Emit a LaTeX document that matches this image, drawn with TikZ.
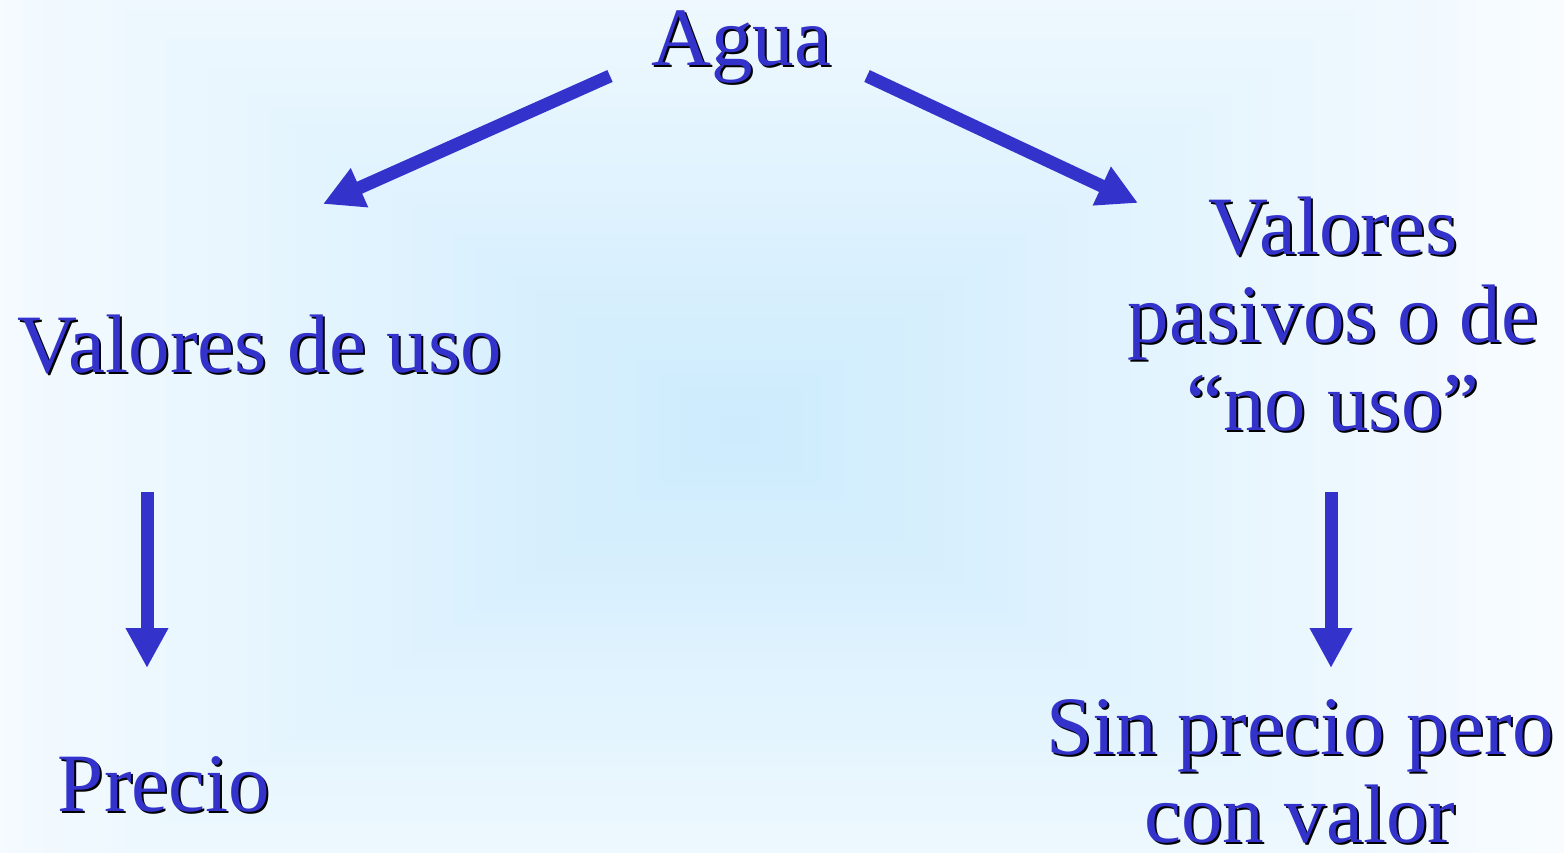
\documentclass[tikz,border=0pt]{standalone}
\usepackage{fontspec}
\setmainfont{Liberation Serif}
\usetikzlibrary{arrows.meta}
\definecolor{txtblue}{RGB}{51,51,204}
\definecolor{bgin}{RGB}{204,235,253}
\definecolor{bgout}{RGB}{248,252,255}
\newcommand\shlabel[3]{%
  \node[lbl,black,xshift=2pt,yshift=-2pt] (#1s) at (#2) {#3};
  \node[lbl,txtblue] (#1) at (#2) {#3};}
\tikzset{
  lbl/.style={anchor=base,align=center,inner sep=0pt,text depth=0pt,font=\fontsize{83}{88}\selectfont},
  arr/.style={draw=txtblue,line width=13pt,-{Triangle[width=40pt,length=40pt]}}
}
\begin{document}
\begin{tikzpicture}[x=1pt,y=-1pt]
\useasboundingbox (0,0) rectangle (1564,853);
\fill[bgout] (0,0) rectangle (1564,853);
\foreach \i in {40,39,...,1}{
  \pgfmathsetmacro\pc{2.5*\i}
  \pgfmathsetmacro\hx{20.5*\i}
  \pgfmathsetmacro\hy{14*\i}
  \fill[bgout!\pc!bgin] (740-\hx,430-\hy) rectangle (740+\hx,430+\hy);
}
\shlabel{agua}{741,66}{Agua}
\shlabel{uso}{260,372}{Valores de uso}
\shlabel{precio}{164,811}{Precio}
\shlabel{nouso}{1333,430}{Valores\\pasivos o de\\“no uso”}
\shlabel{sinprecio}{1300,842}{Sin precio pero\\con valor}
\coordinate (l1a) at (610,76);
\coordinate (l1b) at (323,204);
\coordinate (r1a) at (867,76);
\coordinate (r1b) at (1138,203);
\coordinate (l2a) at (147,492);
\coordinate (l2b) at (147,668);
\coordinate (r2a) at (1331,492);
\coordinate (r2b) at (1331,668);
\draw[arr] (l1a) -- (l1b);
\draw[arr] (r1a) -- (r1b);
\draw[arr] (l2a) -- (l2b);
\draw[arr] (r2a) -- (r2b);
\end{tikzpicture}
\end{document}
